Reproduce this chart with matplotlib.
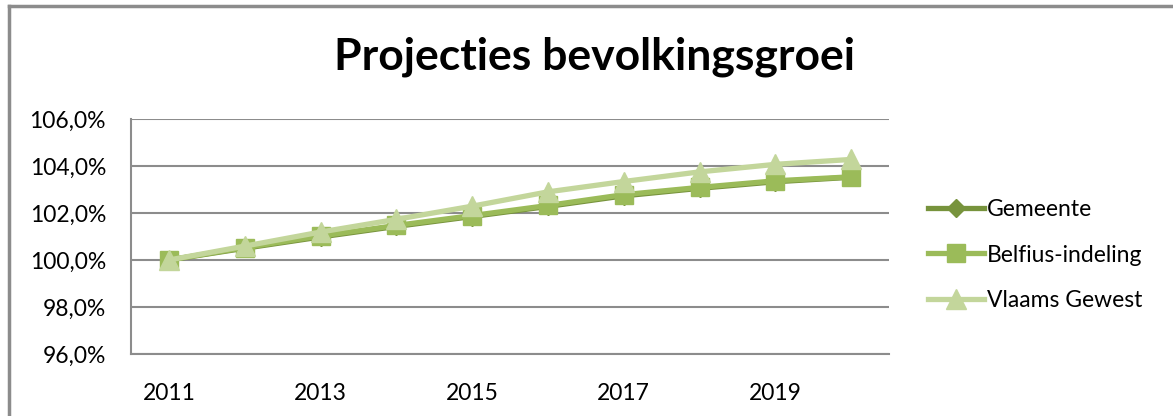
import matplotlib
matplotlib.use("Agg")
import matplotlib.pyplot as plt
from matplotlib.lines import Line2D
from matplotlib.ticker import FuncFormatter, MultipleLocator

plt.rcParams['font.family'] = ['Lato', 'DejaVu Sans']

years = [2011, 2012, 2013, 2014, 2015, 2016, 2017, 2018, 2019, 2020]
gemeente = [100.0, 100.50, 100.98, 101.43, 101.85, 102.28, 102.73, 103.05, 103.33, 103.52]
belfius = [100.0, 100.53, 101.02, 101.47, 101.89, 102.32, 102.78, 103.09, 103.37, 103.54]
vlaams = [100.0, 100.59, 101.19, 101.73, 102.29, 102.90, 103.34, 103.75, 104.07, 104.28]
series_names = ["Gemeente", "Belfius-indeling", "Vlaams Gewest"]
title = "Projecties bevolkingsgroei"

W, H = 1173, 416
fig = plt.figure(figsize=(W / 100, H / 100), dpi=100)
ax = fig.add_axes([131 / W, 1 - 354 / H, (889 - 131) / W, (354 - 119) / H])

x = list(range(len(years)))
c_gem = "#77933C"
c_bel = "#9BBB59"
c_vla = "#C3D69B"

ax.plot(x, gemeente, color=c_gem, lw=3.8, marker="D", ms=9, mfc=c_gem, mec=c_gem, zorder=3)
ax.plot(x, belfius, color=c_bel, lw=3.8, marker="s", ms=13, mfc=c_bel, mec=c_bel, zorder=4)
ax.plot(x, vlaams, color=c_vla, lw=3.8, marker="^", ms=15, mfc=c_vla, mec=c_vla, zorder=5)

ax.set_xlim(-0.5, len(years) - 0.5)
ax.set_ylim(96, 106)
ax.yaxis.set_major_locator(MultipleLocator(2))
ax.yaxis.set_major_formatter(FuncFormatter(lambda v, p: f"{v:.1f}%".replace(".", ",")))
ax.set_xticks(x[::2])
ax.set_xticklabels([str(y) for y in years[::2]])
ax.tick_params(axis="both", length=0, labelsize=16.5, colors="black")
ax.tick_params(axis="x", pad=21)
ax.tick_params(axis="y", pad=18)
ax.grid(axis="y", color="#8C8C8C", lw=1.5)
ax.set_axisbelow(True)
for s in ["top", "right"]:
    ax.spines[s].set_visible(False)
for s in ["left", "bottom"]:
    ax.spines[s].set_color("#8C8C8C")
    ax.spines[s].set_linewidth(1.5)

fig.text(595 / W, 1 - 57 / H, title, ha="center", va="center", fontsize=32, fontweight="bold")

handles = [
    Line2D([], [], color=c_gem, lw=3.8, marker="D", ms=9),
    Line2D([], [], color=c_bel, lw=3.8, marker="s", ms=13),
    Line2D([], [], color=c_vla, lw=3.8, marker="^", ms=15),
]
fig.legend(handles, series_names, loc="center left", bbox_to_anchor=(907 / W, 1 - 255 / H),
           frameon=False, fontsize=16.5, handlelength=2.45, handletextpad=0.15, labelspacing=1.05)

# outer chart border
fig.add_artist(Line2D([9 / W, 1.0], [1 - 6 / H, 1 - 6 / H], color="#8C8C8C", lw=2.5))
fig.add_artist(Line2D([9 / W, 9 / W], [0, 1 - 6 / H], color="#8C8C8C", lw=2.5))

fig.savefig("out.png", dpi=100)
